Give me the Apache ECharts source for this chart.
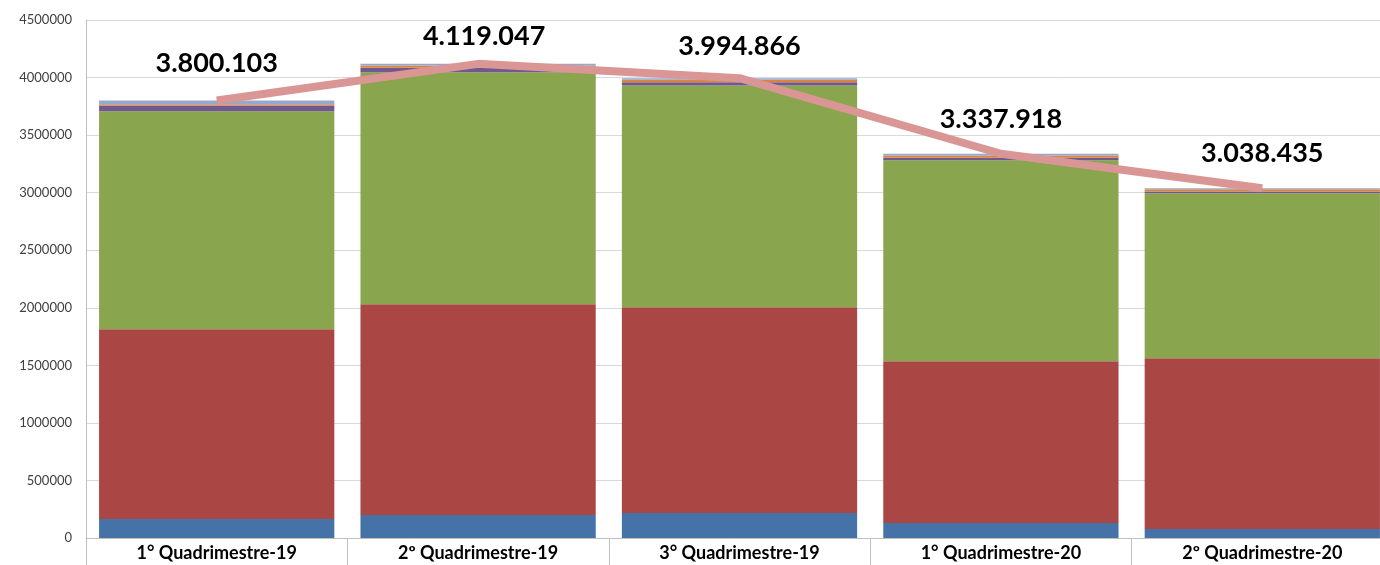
<!DOCTYPE html>
<html>
<head>
<meta charset="utf-8">
<script src="https://cdn.jsdelivr.net/npm/echarts@6/dist/echarts.min.js"></script>
<style>
  html, body { margin: 0; padding: 0; background: #fff; }
  #container { width: 1380px; height: 565px; }
</style>
</head>
<body>
<div id="container"></div>
<script>
// categorias e valores
var quadrimestres = ["1° Quadrimestre-19", "2º Quadrimestre-19", "3° Quadrimestre-19", "1° Quadrimestre-20", "2º Quadrimestre-20"];
var serieAzul = [165000, 200000, 217000, 130000, 78000];
var serieVermelha = [1649000, 1831000, 1788000, 1406000, 1484000];
var serieVerde = [1893103, 2014047, 1926866, 1744918, 1433435];
var serieRoxa = [50000, 40000, 28000, 23000, 15000];
var serieLaranja = [10000, 20000, 20000, 20000, 20000];
var serieAzulClaro = [33000, 14000, 15000, 14000, 8000];
var totais = [3800103, 4119047, 3994866, 3337918, 3038435];

// deslocamento manual dos rótulos (como no original)
var ajusteRotulo = [[0, -3], [6, 7], [0, 3], [0, 0], [0, 0]];

var fonte = "Lato, 'Noto Sans', sans-serif";

function formataMilhar(v) {
    return String(v).replace(/\B(?=(\d{3})+(?!\d))/g, ".");
}

function barra(nome, dados, cor) {
    return {
        name: nome,
        type: 'bar',
        stack: 'total',
        data: dados,
        barCategoryGap: '10%',
        itemStyle: { color: cor },
        emphasis: { disabled: true }
    };
}

var dadosLinha = totais.map(function (v, i) {
    return { value: v, label: { offset: ajusteRotulo[i] } };
});

var myChart = echarts.init(document.getElementById("container"));
myChart.setOption({
    animation: false,
    grid: { left: 86, top: 20, bottom: 27, width: 1307, outerBoundsMode: 'none', containLabel: false },
    xAxis: {
        type: 'category',
        data: quadrimestres,
        axisLine: { lineStyle: { color: '#bfbfbf' } },
        axisTick: { show: true, length: 27, lineStyle: { color: '#bfbfbf' } },
        axisLabel: {
            color: '#000',
            fontFamily: fonte,
            fontWeight: 'bold',
            fontSize: 18,
            margin: 6
        }
    },
    yAxis: {
        type: 'value',
        min: 0,
        max: 4500000,
        interval: 500000,
        axisLine: { show: true, lineStyle: { color: '#bfbfbf' } },
        axisTick: { show: false },
        splitLine: { lineStyle: { color: '#d9d9d9' } },
        axisLabel: {
            color: '#404040', fontFamily: fonte, fontSize: 13, margin: 14,
            formatter: function (v) { return String(v); }
        }
    },
    series: [
        barra('a', serieAzul, '#4572a7'),
        barra('b', serieVermelha, '#aa4643'),
        barra('c', serieVerde, '#89a54e'),
        barra('d', serieRoxa, '#71588f'),
        barra('e', serieLaranja, '#db843d'),
        barra('f', serieAzulClaro, '#93a9cf'),
        {
            name: 'Total',
            type: 'line',
            data: dadosLinha,
            symbol: 'circle',
            symbolSize: 2,
            showSymbol: true,
            itemStyle: { color: 'rgba(217,150,148,0)', borderWidth: 0 },
            z: 5,
            lineStyle: { color: '#d99694', width: 8 },
            label: {
                show: true,
                position: 'top',
                distance: 20,
                color: '#000',
                fontFamily: fonte,
                fontWeight: 'bold',
                fontSize: 27,
                formatter: function (p) { return formataMilhar(p.value); }
            }
        }
    ]
});
</script>
</body>
</html>
